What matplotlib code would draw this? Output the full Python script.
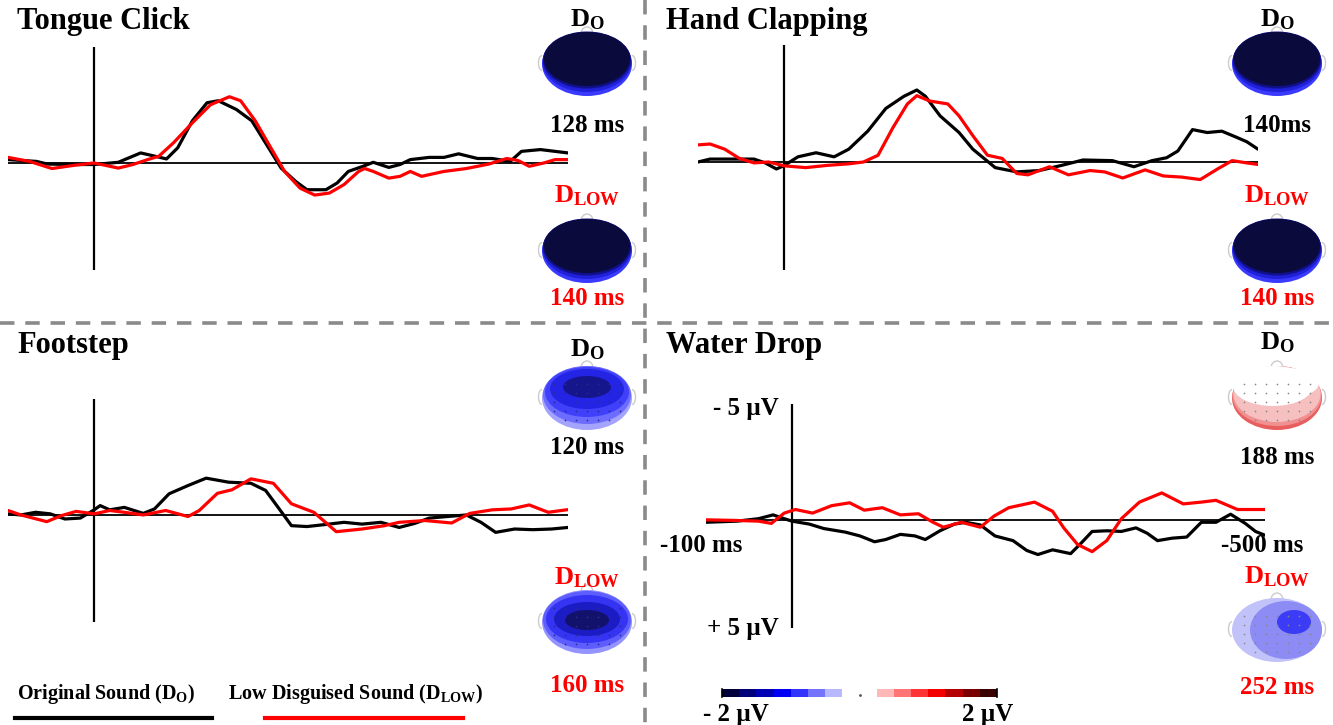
import numpy as np
import matplotlib
matplotlib.use("Agg")
import matplotlib.pyplot as plt
from matplotlib.patches import Ellipse, Arc
from matplotlib.colors import ListedColormap

plt.rcParams['font.family'] = ['Liberation Serif', 'DejaVu Serif']
plt.rcParams['font.weight'] = 'bold'
plt.rcParams['mathtext.fontset'] = 'custom'
plt.rcParams['mathtext.rm'] = 'Liberation Serif:bold'
plt.rcParams['mathtext.bf'] = 'Liberation Serif:bold'
plt.rcParams['mathtext.it'] = 'Liberation Serif:bold'

# ---- ERP grand averages (ms, µV; negative plotted upwards) ----
tongue_t_o = [-100, -67, -54, -24, 0, 28, 54, 71, 84, 97, 114, 131, 144, 165, 183, 200, 217,
              234, 247, 269, 282, 295, 312, 324, 342, 355, 367, 389, 406, 423, 445, 462, 483,
              496, 518, 535, 550]
tongue_o = [-0.15, -0.07, 0.05, 0.07, 0.07, -0.03, -0.45, -0.3, -0.18, -0.68, -1.89, -2.7, -2.79,
            -2.4, -1.89, -0.83, 0.23, 0.83, 1.2, 1.2, 0.9, 0.38, 0.15, -0.03, 0.2, 0.07, -0.15,
            -0.25, -0.25, -0.41, -0.2, -0.2, -0.07, -0.52, -0.6, -0.52, -0.45]
tongue_t_low = [-100, -75, -49, -24, 0, 28, 45, 62, 75, 92, 114, 135, 157, 170, 187, 204, 221,
                239, 256, 273, 290, 307, 314, 324, 342, 355, 367, 380, 406, 432, 458, 479, 492,
                505, 522, 535, 550]
tongue_low = [-0.25, -0.07, 0.25, 0.11, 0.0, 0.23, 0.07, -0.15, -0.3, -0.9, -1.8, -2.61, -2.97,
              -2.79, -1.89, -0.75, 0.38, 1.13, 1.44, 1.35, 0.97, 0.38, 0.25, 0.38, 0.68, 0.6,
              0.38, 0.6, 0.38, 0.25, 0.05, -0.2, -0.11, 0.15, 0.0, -0.15, -0.15]

hand_t_o = [-100, -86, -60, -35, -22, -9, 0, 16, 37, 58, 75, 97, 118, 139, 154, 164, 181, 203,
            219, 232, 245, 270, 296, 321, 347, 381, 406, 427, 444, 457, 474, 491, 508, 525,
            537, 550]
hand_o = [0.0, -0.13, -0.13, -0.13, 0.04, 0.31, 0.16, -0.23, -0.41, -0.23, -0.57, -1.37, -2.38,
          -2.92, -3.2, -2.92, -2.05, -1.31, -0.57, -0.16, 0.25, 0.44, 0.38, 0.16, -0.09, -0.06,
          0.21, -0.06, -0.19, -0.49, -1.44, -1.31, -1.37, -1.1, -0.9, -0.57]
hand_t_low = [-100, -86, -69, -52, -35, -18, 0, 25, 50, 75, 92, 109, 126, 143, 154, 169, 190,
              203, 219, 236, 253, 270, 283, 308, 330, 355, 372, 393, 419, 440, 461, 483, 503,
              520, 537, 550]
hand_low = [-0.76, -0.8, -0.57, -0.16, 0.04, 0.0, 0.17, 0.25, 0.15, 0.08, 0.0, -0.3, -1.51,
            -2.58, -2.95, -2.71, -2.58, -2.05, -1.17, -0.3, -0.16, 0.51, 0.57, 0.21, 0.57, 0.38,
            0.44, 0.71, 0.35, 0.62, 0.67, 0.78, 0.31, -0.06, 0.04, 0.11]

foot_t_o = [-100, -85, -68, -51, -34, -16, 0, 7, 18, 35, 57, 70, 87, 109, 130, 156, 182, 199,
            212, 229, 247, 268, 290, 311, 333, 354, 372, 389, 410, 432, 449, 466, 488, 509,
            531, 550]
foot_o = [-0.05, 0.0, -0.12, -0.05, 0.18, 0.14, -0.23, -0.42, -0.23, -0.34, -0.07, -0.27, -0.95,
          -1.32, -1.65, -1.47, -1.42, -1.1, -0.42, 0.48, 0.52, 0.43, 0.33, 0.41, 0.33, 0.56,
          0.38, 0.14, 0.07, 0.0, 0.33, 0.78, 0.63, 0.66, 0.63, 0.56]
foot_t_low = [-100, -85, -55, -38, -21, 0, 18, 35, 57, 83, 109, 122, 143, 160, 182, 208, 229,
              255, 281, 311, 337, 354, 384, 415, 436, 462, 484, 505, 527, 550]
foot_low = [-0.2, 0.0, 0.3, 0.03, -0.16, -0.05, -0.2, -0.12, 0.0, -0.2, 0.07, -0.2, -0.97,
            -1.13, -1.62, -1.42, -0.5, -0.12, 0.75, 0.63, 0.48, 0.33, 0.25, 0.36, -0.07, -0.23,
            -0.27, -0.45, -0.12, -0.24]

water_t_o = [-100, -64, -39, -22, -9, 0, 20, 37, 62, 79, 96, 109, 126, 143, 155, 172, 189, 202,
             219, 236, 257, 273, 286, 303, 324, 337, 349, 366, 383, 400, 413, 425, 442, 459,
             476, 493, 510, 527, 539, 550]
water_o = [0.08, 0.03, -0.08, -0.25, -0.08, 0.03, 0.16, 0.36, 0.52, 0.69, 0.95, 0.85, 0.62,
           0.69, 0.85, 0.46, 0.16, 0.08, 0.2, 0.69, 0.9, 1.34, 1.52, 1.31, 1.48, 0.98, 0.49,
           0.46, 0.49, 0.33, 0.57, 0.9, 0.79, 0.74, 0.08, 0.08, -0.28, 0.13, 0.49, 0.66]
water_t_low = [-100, -64, -39, -24, -9, 4, 24, 46, 67, 84, 105, 126, 147, 164, 176, 197, 219,
               235, 252, 282, 303, 316, 332, 349, 366, 383, 404, 430, 455, 476, 493, 518, 550]
water_low = [-0.03, 0.0, 0.03, 0.13, -0.33, -0.49, -0.33, -0.66, -0.79, -0.46, -0.57, -0.25,
             -0.3, 0.08, 0.3, 0.08, 0.3, -0.2, -0.57, -0.82, -0.41, 0.33, 1.07, 1.39, 0.9,
             -0.08, -0.82, -1.23, -0.74, -0.82, -0.9, -0.49, -0.49]

# latency of the topographic maps
latency_o = {'Tongue Click': '128 ms', 'Hand Clapping': '140ms', 'Footstep': '120 ms', 'Water Drop': '188 ms'}
latency_low = {'Tongue Click': '140 ms', 'Hand Clapping': '140 ms', 'Footstep': '160 ms', 'Water Drop': '252 ms'}

# scale colours, -2 µV .. 2 µV
scale_colors = ['#00003a', '#00007a', '#0000b4', '#0000f4', '#3434ff', '#7474ff', '#b8b8ff',
                'white', 'white',
                '#ffb8b8', '#ff7474', '#ff3434', '#f40000', '#b40000', '#7a0000', '#3a0000']

W, H = 1333, 725
RED = '#ff0000'
fig = plt.figure(figsize=(W / 100, H / 100), dpi=100)


def box(x0, y0, x1, y1):
    return [x0 / W, 1 - y1 / H, (x1 - x0) / W, (y1 - y0) / H]


def ftext(x, y, s, **kw):
    kw.setdefault('ha', 'center')
    kw.setdefault('va', 'center')
    kw.setdefault('fontweight', 'bold')
    fig.text(x / W, 1 - y / H, s, **kw)


# dashed separators
bg = fig.add_axes([0, 0, 1, 1])
bg.set_xlim(0, W)
bg.set_ylim(H, 0)
bg.axis('off')
bg.plot([645, 645], [0, H], color='#8a8a8a', lw=2.6, dashes=(4, 3))
bg.plot([0, W], [323, 323], color='#8a8a8a', lw=2.6, dashes=(4, 3))

# legend keys
bg.plot([15, 212], [718, 718], color='black', lw=3)
bg.plot([265, 463], [718, 718], color=RED, lw=3)
ftext(17, 694, 'Original Sound (D$_{\\mathrm{O}}$)', ha='left', fontsize=14.5)
ftext(228, 694, 'Low Disguised Sound (D$_{\\mathrm{LOW}}$)', ha='left', fontsize=14.5)


def erp_panel(px, t_o, v_o, t_low, v_low):
    ax = fig.add_axes(box(*px))
    ax.set_xlim(-100, 550)
    ax.set_ylim(4.8, -5.2)
    ax.axis('off')
    ax.axhline(0, color='black', lw=1.3)
    ax.axvline(0, color='black', lw=1.6)
    ax.plot(t_o, v_o, color='black', lw=2.3, solid_joinstyle='round', solid_capstyle='round')
    ax.plot(t_low, v_low, color=RED, lw=2.3, solid_joinstyle='round', solid_capstyle='round')
    return ax


erp_panel((8, 47, 568, 270), tongue_t_o, tongue_o, tongue_t_low, tongue_low)
erp_panel((698, 45, 1258, 270), hand_t_o, hand_o, hand_t_low, hand_low)
erp_panel((8, 399, 568, 622), foot_t_o, foot_o, foot_t_low, foot_low)
erp_panel((706, 404, 1265, 628), water_t_o, water_o, water_t_low, water_low)

ftext(17, 22, 'Tongue Click', ha='left', fontsize=22)
ftext(666, 22, 'Hand Clapping', ha='left', fontsize=22)
ftext(17, 345, 'Footstep', ha='left', fontsize=22)
ftext(666, 345, 'Water Drop', ha='left', fontsize=22)

# amplitude / time labels on the water drop panel
ftext(779, 408, '- 5 µV', ha='right', fontsize=18)
ftext(779, 628, '+ 5 µV', ha='right', fontsize=18)
ftext(701, 545, '-100 ms', fontsize=18)
ftext(1262, 545, '-500 ms', fontsize=18)


def head(cx, cy, layers, dots=None):
    ax = fig.add_axes(box(cx - 54, cy - 42, cx + 54, cy + 42))
    ax.set_xlim(-54, 54)
    ax.set_ylim(-42, 42)
    ax.axis('off')
    ax.add_patch(Arc((0, 30), 12, 14, theta1=0, theta2=180, color='#cccccc', lw=1))
    ax.add_patch(Arc((-45, 1), 7, 15, theta1=90, theta2=270, color='#cccccc', lw=1))
    ax.add_patch(Arc((45, 1), 7, 15, theta1=-90, theta2=90, color='#cccccc', lw=1))
    for x, y, w, h, c in layers:
        ax.add_patch(Ellipse((x, y), w, h, facecolor=c, edgecolor='none'))
    if dots:
        gx, gy = np.meshgrid(np.arange(-33, 34, 11), np.arange(-22, 23, 9))
        keep = (gx / 42.0) ** 2 + (gy / 29.0) ** 2 < 1
        ax.scatter(gx[keep], gy[keep], s=1.5, color=dots, lw=0)
    return ax


dark_map = [(0, 0, 90, 64, '#3a3aff'), (0, 2, 89, 60, '#2020d8'),
            (0, 4, 88, 57, '#10108a'), (0, 5, 86, 54, '#0a0a3c')]
foot_o_map = [(0, 0, 90, 64, '#a4a4ff'), (0, 3, 88, 58, '#6c6cff'), (0, 6, 84, 50, '#4040fa'),
              (0, 9, 74, 40, '#2424e4'), (0, 11, 48, 22, '#16168c')]
foot_low_map = [(0, 0, 90, 64, '#9494ff'), (0, 2, 88, 58, '#5e5eff'), (0, 3, 82, 48, '#3434f2'),
                (0, 3, 66, 34, '#1c1cc4'), (0, 2, 44, 20, '#12126c')]
water_o_map = [(0, 0, 90, 64, '#e85e5e'), (0, 2, 89, 60, '#f09090'), (0, 4, 87, 56, '#f7c0c0'),
               (-4, 12, 80, 40, 'white'), (10, 15, 64, 30, 'white')]
water_low_map = [(0, 0, 90, 64, '#c2c2fa'), (9, 0, 72, 58, '#8c8cf4'), (17, 8, 34, 24, '#3c3cf6')]

panels = [
    ('Tongue Click', 587, (20, 64, 125, 196, 251, 298), dark_map, dark_map, None),
    ('Hand Clapping', 1277, (20, 64, 125, 196, 251, 298), dark_map, dark_map, None),
    ('Footstep', 587, (350, 398, 447, 578, 622, 686), foot_o_map, foot_low_map, '#2a2a8a'),
    ('Water Drop', 1277, (343, 398, 457, 577, 630, 687), water_o_map, water_low_map, '#888888'),
]
for name, cx, (y_d, y_h1, y_l1, y_dl, y_h2, y_l2), map_o, map_low, dots in panels:
    ftext(cx, y_d, 'D$_{\\mathrm{O}}$', fontsize=19)
    head(cx, y_h1, map_o, dots)
    ftext(cx, y_l1, latency_o[name], fontsize=18)
    ftext(cx, y_dl, 'D$_{\\mathrm{LOW}}$', fontsize=19, color=RED)
    head(cx, y_h2, map_low, dots)
    ftext(cx, y_l2, latency_low[name], fontsize=18, color=RED)

# colour scale
cax = fig.add_axes(box(722, 689, 997, 697))
cax.imshow(np.arange(len(scale_colors))[None, :], cmap=ListedColormap(scale_colors),
           aspect='auto', extent=(0, len(scale_colors), 0, 1))
cax.plot([len(scale_colors) / 2], [0.2], marker='.', color='#555555', ms=2)
cax.set_xticks([])
cax.set_yticks([])
for side in ('top', 'bottom'):
    cax.spines[side].set_visible(False)
for side in ('left', 'right'):
    cax.spines[side].set_linewidth(1.2)
ftext(703, 714, '- 2 µV', ha='left', fontsize=18)
ftext(1013, 714, '2 µV', ha='right', fontsize=18)

fig.savefig('out.png', dpi=100)
